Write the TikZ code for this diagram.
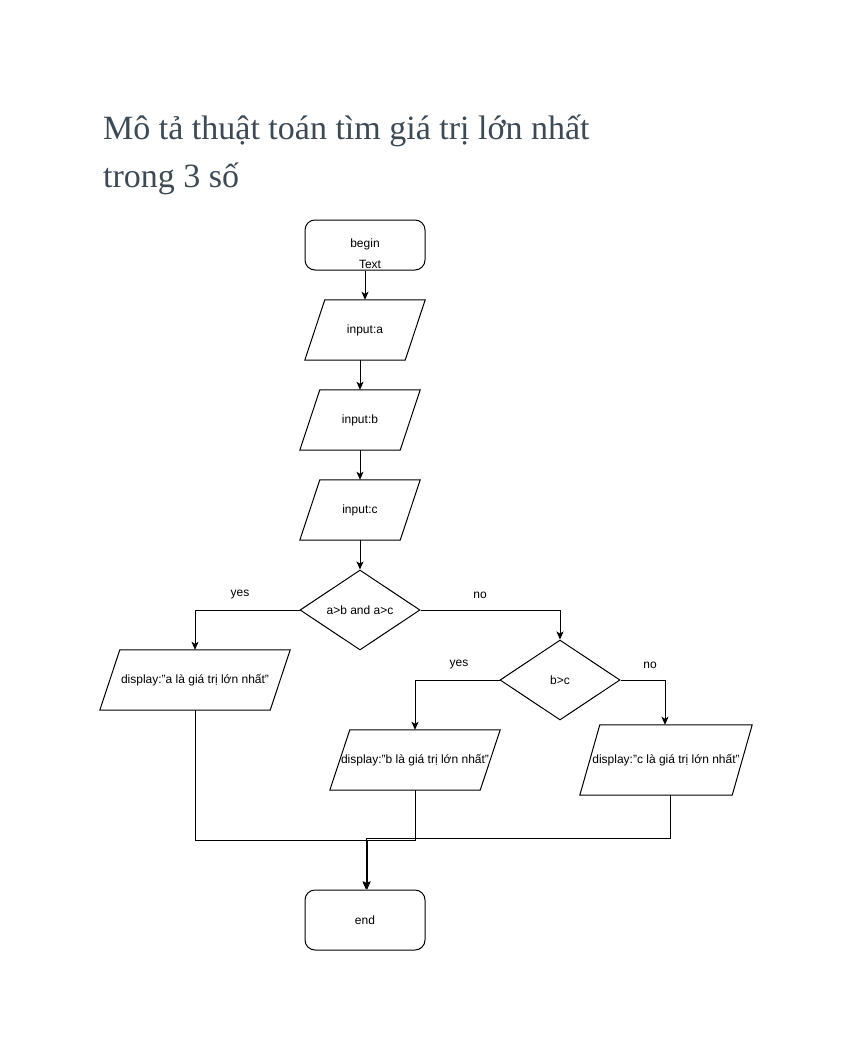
\documentclass[tikz,border=0pt]{standalone}
\usepackage{fontspec}
\setmainfont{Liberation Sans}
\newfontfamily\titlefont{Liberation Serif}
\usetikzlibrary{arrows.meta,calc,shapes.geometric}
\definecolor{titlecol}{HTML}{3D4A54}
\begin{document}
\begin{tikzpicture}[x=1pt,y=-1pt,
  every node/.style={font=\fontsize{12}{14}\selectfont},
  base/.style={draw=black, line width=1pt},
  termbox/.style={base, rectangle, rounded corners=10pt, minimum width=120pt, minimum height=50pt, inner sep=0pt},
  iobox/.style={rectangle, minimum height=60pt, inner sep=0pt},
  decision/.style={base, diamond, aspect=1.5, minimum width=120pt, minimum height=80pt, inner sep=0pt},
  lbl/.style={inner sep=1pt},
  conn/.style={line width=1pt, draw=black},
  arr/.style={conn, -{Stealth[length=8pt,width=7pt,inset=2pt]}},
  titletext/.style={font=\titlefont\fontsize{34}{47}\selectfont, text=titlecol, inner sep=0pt, anchor=base west}
]
\fill[white] (0,0) rectangle (851,1051);
\useasboundingbox (0,0) rectangle (851,1051);

% title
\node[titletext] (t1) at (103,140) {Mô tả thuật toán tìm giá trị lớn nhất};
\node[titletext] (t2) at (103,187) {trong 3 số};

% nodes
\node[termbox] (begin) at (365,245) {};
\node (beginlbl) at (365,244) {begin};
\node (textlbl) at (370,264) {Text};
\node[iobox, minimum width=120pt] (ia) at (365,330) {input:a};
\node[iobox, minimum width=120pt] (ib) at (360,420) {input:b};
\node[iobox, minimum width=120pt] (ic) at (360,510) {input:c};
\node[decision] (d1) at (360,610) {a>b and a>c};
\node[iobox, minimum width=190pt] (da) at (195,680) {display:"a là giá trị lớn nhất"};
\node[decision] (d2) at (560,680) {b>c};
\node[iobox, minimum width=170pt] (db) at (415,760) {display:"b là giá trị lớn nhất"};
\node[iobox, minimum width=172pt, minimum height=70pt] (dc) at (666,760) {display:"c là giá trị lớn nhất"};
\node[termbox, minimum height=60pt] (end) at (365,920) {end};

% parallelogram outlines
\foreach \n in {ia,ib,ic,da,db,dc}
  \draw[base] ($(\n.north west)+(20,0)$) -- (\n.north east) -- ($(\n.south east)-(20,0)$) -- (\n.south west) -- cycle;

% branch labels
\node[lbl] (y1) at (240,595) {yes};
\node[lbl] (n1) at (480,595) {no};
\node[lbl] (y2) at (459,665) {yes};
\node[lbl] (n2) at (650,665) {no};

% connectors
\draw[arr] (begin.south) -- (ia.north);
\draw[arr] (ia.south -| ib.north) -- (ib.north);
\draw[arr] (ib.south) -- (ic.north);
\draw[arr] (ic.south) -- (d1.north);
\draw[arr] (d1.west) -| (da.north);
\draw[arr] (d1.east) -| (d2.north);
\draw[arr] (d2.west) -| (db.north);
\draw[arr] (d2.east) -| ($(dc.north)+(-1,0)$);

\coordinate (m1) at (367,840);
\coordinate (m2) at (366,838);
\coordinate (dcout) at ($(dc.south)+(4,0)$);
\draw[arr] (da.south) |- (m1) -- (end.north -| m1);
\draw[arr] (db.south) |- (m1) -- (end.north -| m1);
\draw[arr] (dcout) |- (m2) -- (end.north -| m2);
\end{tikzpicture}
\end{document}
